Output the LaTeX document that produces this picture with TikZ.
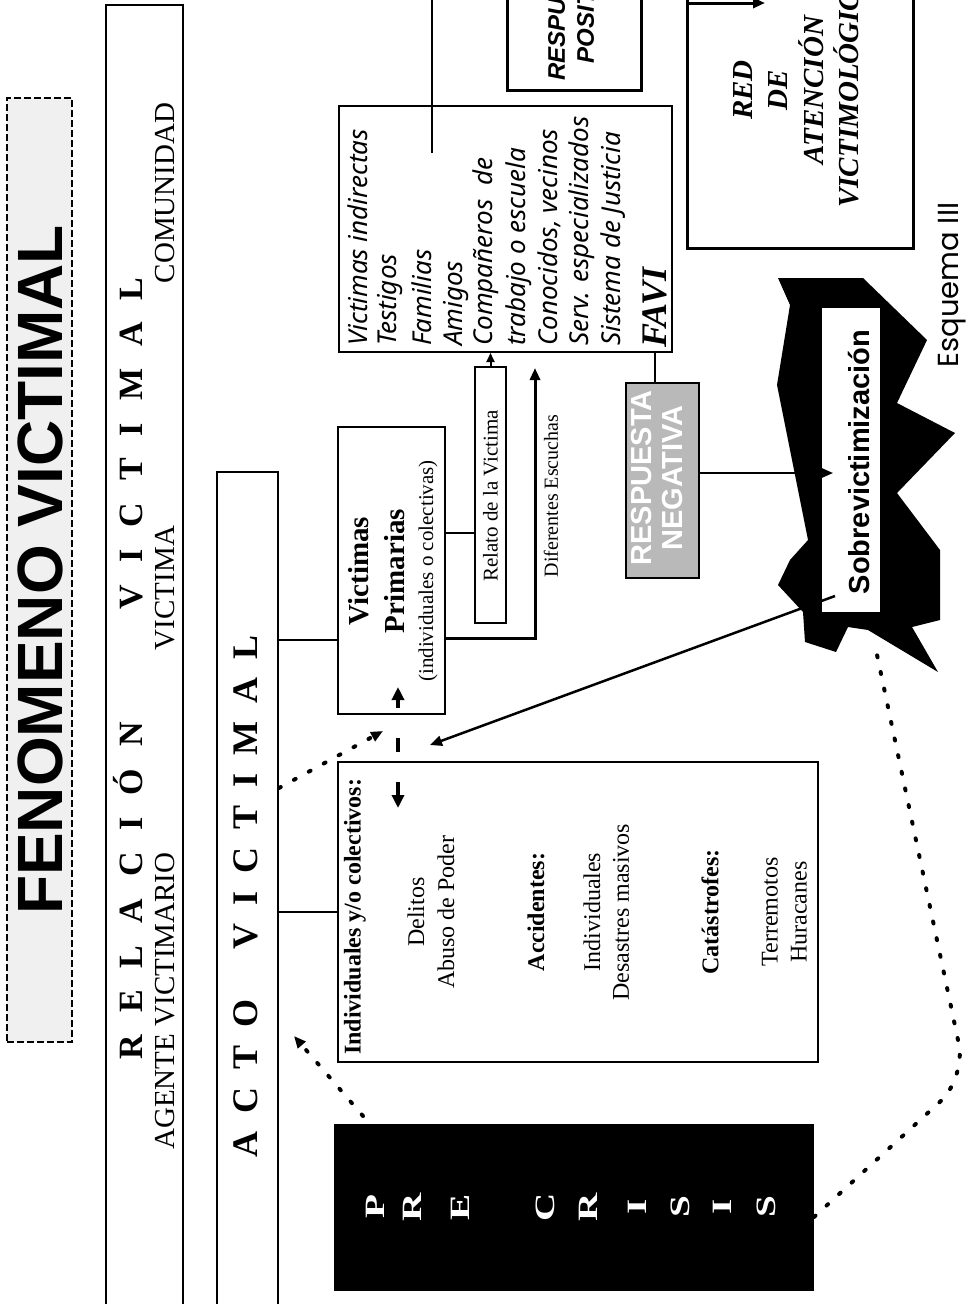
\documentclass[tikz,border=0pt]{standalone}
\usepackage{fontspec}
\setmainfont{Liberation Serif}
\newfontfamily\arialf{Liberation Sans}
\newfontfamily\humsans{Noto Sans}
\newfontfamily\gothicf{Poppins}
\usetikzlibrary{arrows.meta}
\newcommand{\fsz}[1]{\fontsize{#1}{#1}\selectfont}
\begin{document}
\begin{tikzpicture}[x=1pt,y=-1pt,
  box/.style={draw, line width=2pt, inner sep=0pt},
  txt/.style={rotate=90, inner sep=0pt},
  conn/.style={line width=2pt},
  dotline/.style={line width=4pt, line cap=round, dash pattern=on 2pt off 15pt},
  tip/.style={-{Triangle[length=12pt,width=10pt]}},
]
\useasboundingbox (0,0) rectangle (966,1304);
\clip (0,0) rectangle (966,1304);

% ---------- title ----------
\node[box, fill=gray!12, dash pattern=on 7pt off 3pt, minimum width=65pt, minimum height=944pt] (title) at (39.5,570) {};
\node[txt, font=\arialf\bfseries\fsz{64}] (titlet) at (40,570) {FENOMENO VICTIMAL};

% ---------- relacion ----------
\node[box, minimum width=77pt, minimum height=1310pt] (rel) at (144.5,660) {};
\node[txt, font=\bfseries\fsz{34}] (relt) at (128,668.5) {R\kern22pt E\kern22pt L\kern22pt A\kern22pt C\kern22pt I\kern22pt Ó\kern22pt N\kern113pt V\kern22pt I\kern22pt C\kern22pt T\kern22pt I\kern22pt M\kern22pt A\kern22pt L};
\node[txt, font=\fsz{29}] (agente) at (165,1001) {AGENTE VICTIMARIO};
\node[txt, font=\fsz{29}] (victima) at (165,588) {VICTIMA};
\node[txt, font=\fsz{29}] (comunidad) at (165,193) {COMUNIDAD};

% ---------- acto ----------
\node[box, minimum width=61pt, minimum height=840pt] (acto) at (247.5,892) {};
\node[txt, font=\bfseries\fsz{36}] (actot) at (246,896.5) {A\kern18pt C\kern18pt T\kern18pt O\kern50pt V\kern18pt I\kern18pt C\kern18pt T\kern18pt I\kern18pt M\kern18pt A\kern18pt L};

% ---------- individuales ----------
\node[box, minimum width=480pt, minimum height=300pt] (ind) at (578,912) {};
\node[txt, anchor=west, font=\bfseries\fsz{24}] (indh) at (355,1055) {Individuales y/o colectivos:};
\node[txt, font=\fsz{24}] (i1) at (416,912) {Delitos};
\node[txt, font=\fsz{24}] (i2) at (446,912) {Abuso de Poder};
\node[txt, font=\bfseries\fsz{24}] (i3) at (536,912) {Accidentes:};
\node[txt, font=\fsz{24}] (i4) at (592,912) {Individuales};
\node[txt, font=\fsz{24}] (i5) at (621,912) {Desastres masivos};
\node[txt, font=\bfseries\fsz{24}] (i6) at (710,912) {Catástrofes:};
\node[txt, font=\fsz{24}] (i7) at (770,912) {Terremotos};
\node[txt, font=\fsz{24}] (i8) at (799,912) {Huracanes};

% ---------- victimas primarias ----------
\node[box, minimum width=107pt, minimum height=287pt] (vp) at (391.5,570.5) {};
\node[txt, font=\bfseries\fsz{29}] (vp1) at (359,571) {Victimas};
\node[txt, font=\bfseries\fsz{29}] (vp2) at (395,571) {Primarias};
\node[txt, font=\fsz{21}] (vp3) at (428,571) {(individuales o colectivas)};

% ---------- relato ----------
\node[box, minimum width=31pt, minimum height=256pt] (relato) at (490.5,495) {};
\node[txt, font=\fsz{21}] (relatot) at (490.5,496) {Relato de la Victima};
\node[txt, font=\fsz{20}] (escu) at (551,496) {Diferentes Escuchas};

% ---------- victimas indirectas ----------
\node[box, minimum width=333pt, minimum height=246pt] (vi) at (505.5,229) {};
\foreach \tx/\xx [count=\k] in {Victimas indirectas/358, Testigos/390, Familias/422, Amigos/456, Compañeros\kern14pt de/486, trabajo o escuela/519, {Conocidos, vecinos}/549, Serv. especializados/582, Sistema de Justicia/613}
  \node[txt, anchor=west, font=\humsans\itshape\fsz{26}] (vi\k) at (\xx,346) {\tx};
\node[txt, anchor=west, font=\bfseries\itshape\fsz{36}] (favi) at (655,348) {FAVI};

% ---------- respuesta positiva ----------
\node[box, line width=3pt, minimum width=134pt, minimum height=160pt] (pos) at (574,10) {};
\node[txt, align=center, font=\arialf\bfseries\itshape\fontsize{24}{29}\selectfont] (post) at (571,8) {RESPUESTA\\POSITIVA};

% ---------- red ----------
\node[box, line width=3pt, minimum width=226pt, minimum height=330pt] (red) at (800,83) {};
\node[txt, align=center, font=\bfseries\itshape\fontsize{29}{35.5}\selectfont] (redt) at (796,90) {RED\\DE\\ATENCIÓN\\VICTIMOLÓGICA};

% ---------- respuesta negativa ----------
\node[box, fill=gray!55, minimum width=73pt, minimum height=195pt] (neg) at (662.5,480.5) {};
\node[txt, align=center, text=white, font=\arialf\bfseries\fontsize{29}{31}\selectfont] (negt) at (657.5,478) {RESPUESTA\\NEGATIVA};

% ---------- sobrevictimizacion ----------
\fill[black] (778,278) -- (863,278) -- (927,340) -- (897,403) -- (955,433) -- (897,493) -- (940,550) -- (940,620) -- (912,627) -- (938,672) -- (868,630) -- (848,627) -- (836,652) -- (805,642) -- (803,612) -- (778,585) -- (790,560) -- (808,540) -- (777,385) -- (790,305) -- cycle;
\node[fill=white, inner sep=0pt, minimum width=58pt, minimum height=304pt] (sob) at (851,460) {};
\node[txt, font=\arialf\bfseries\fsz{29}] (sobt) at (859,462) {Sobrevictimización};

% ---------- pre crisis ----------
\node[box, fill=black, minimum width=478pt, minimum height=165pt] (crisis) at (574,1207.5) {};
\foreach \ch/\xx [count=\k] in {P/375,R/412,E/460,C/545,R/588,I/637,S/680,I/722,S/766}
  \node[txt, text=white, font=\bfseries\fsz{28}] (cr\k) at (\xx,1207) {\scalebox{1.4}[1]{\ch}};

% ---------- esquema ----------
\node[txt, font=\gothicf\fsz{29}] (esq) at (952,285) {Esquema III};

% ---------- coordinates ----------
\coordinate (escTip) at (535,368);
\coordinate (escCorner) at (535,638);
\coordinate (viTop) at (432,-5);
\coordinate (viIn) at (432,153);
\coordinate (negTip) at (833,473);
\coordinate (sobStart) at (835,596);
\coordinate (indTip) at (430,745);
\coordinate (redTip) at (765,3);
\coordinate (dashA) at (398,808);
\coordinate (dashB) at (398,687);
\coordinate (crisisStart) at (363,1116);
\coordinate (actoTip) at (294,1036);
\coordinate (vpTip) at (383,731);
\coordinate (curveCorner) at (966,1078);
\coordinate (sobEnd) at (876,650);

% ---------- connectors ----------
\draw[conn] (acto.east |- 0,640) -- (vp.west |- 0,640);
\draw[conn] (acto.east |- 0,912) -- (ind.west |- 0,912);
\draw[conn] (vp.east |- 0,533) -- (relato.west |- 0,533);
\draw[conn, -{Triangle[length=9pt,width=8pt]}] (relato.north) -- (relato.north |- vi.south);
\draw[line width=3pt, tip] (vp.east |- 0,638) -- (escCorner) -- (escTip);
\draw[conn] (viIn) -- (viTop);
\draw[conn] (vi.south -| 655,0) -- (neg.north -| 655,0);
\draw[conn, tip] (neg.east |- 0,473) -- (negTip);
\draw[line width=2.5pt, tip] (sobStart) -- (indTip);
\draw[line width=3pt, tip] (red.west |- 0,3) -- (redTip);
\draw[line width=3.5pt, dash pattern=on 14pt off 30pt, {Triangle[length=13pt,width=12pt]}-{Triangle[length=13pt,width=12pt]}] (dashA) -- (dashB);
\draw[dotline, tip] (crisisStart) -- (actoTip);
\draw[dotline, tip] (acto.east |- 0,788) -- (vpTip);
\draw[dotline, rounded corners=35pt] (crisis.east |- 0,1217) -- (curveCorner) -- (sobEnd);
\end{tikzpicture}
\end{document}
